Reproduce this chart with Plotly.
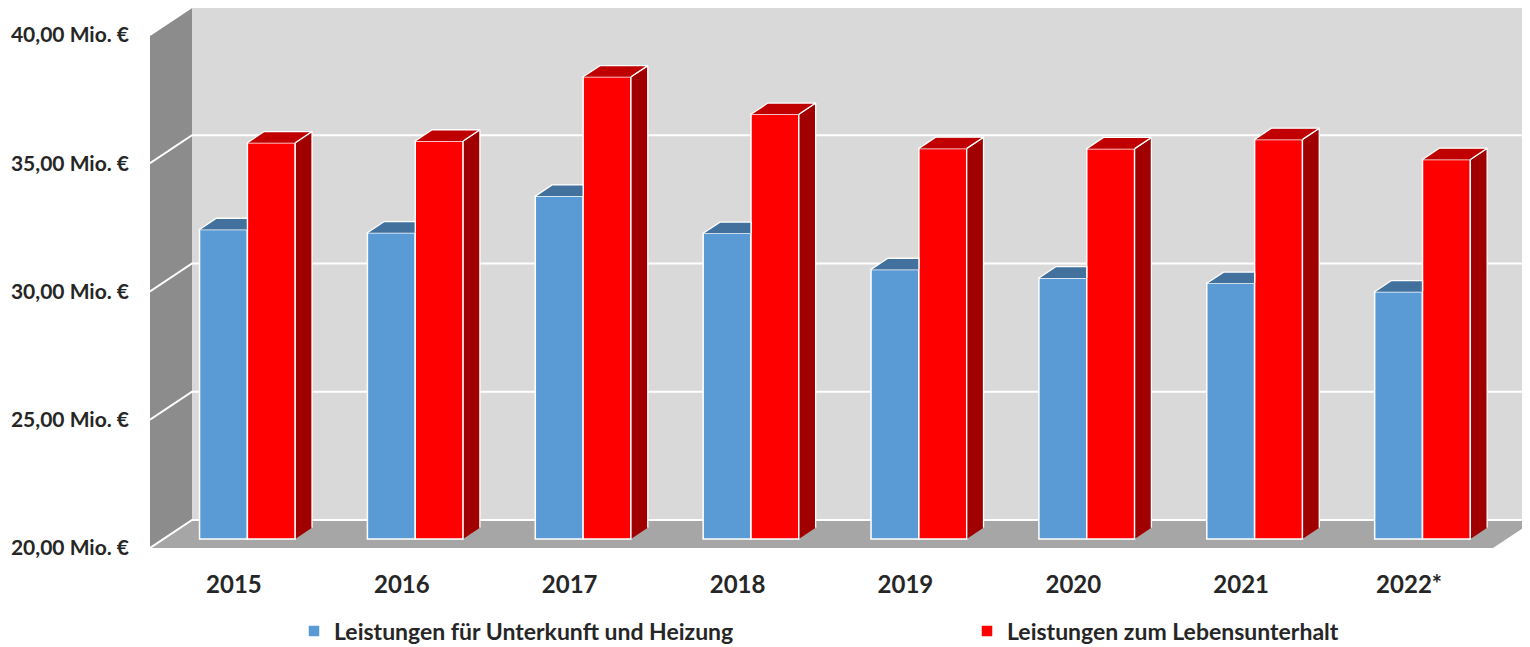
import plotly.graph_objects as go

# ---------------- data ----------------
years = ["2015", "2016", "2017", "2018", "2019", "2020", "2021", "2022*"]
unterkunft = [32.07, 31.94, 33.37, 31.92, 30.51, 30.18, 29.97, 29.64]
lebensunterhalt = [35.45, 35.52, 38.02, 36.56, 35.23, 35.22, 35.58, 34.80]
y_ticks = [20, 25, 30, 35, 40]
y_ticktext = ["20,00 Mio. €", "25,00 Mio. €", "30,00 Mio. €", "35,00 Mio. €", "40,00 Mio. €"]
series_names = ["Leistungen für Unterkunft und Heizung", "Leistungen zum Lebensunterhalt"]

# ---------------- geometry / style ----------------
# page body has an 8px default margin: the figure is sized to fit the 1530x647 window
W, H = 1522, 639
ML, MR, MT, MB = 142, 0, 0, 99
plot_w = W - ML - MR
plot_h = H - MT - MB
n = len(years)
BASE = y_ticks[0]
px_per_cat = 167.875
px_per_val = 25.65
x_rng = [0, plot_w / px_per_cat]
y_rng = [BASE, BASE + plot_h / px_per_val]
DX = 42 / px_per_cat          # full depth in category units
DY = 28 / px_per_val          # full depth in value units
F0 = 0.32                     # depth position of bar fronts
FB = 0.40                     # bar depth
BW = 0.285                    # single bar width
ddx, ddy = FB * DX, FB * DY

C_BLUE, C_BLUE_TOP = "#5b9bd5", "#41719c"
C_RED, C_RED_TOP, C_RED_SIDE = "#ff0000", "#c00000", "#a00000"
C_BACK, C_LEFT, C_FLOOR = "#d9d9d9", "#8c8c8c", "#a6a6a6"
TXT = "#262626"
FONT = "Lato"

centers = [i + 0.5 for i in range(n)]

fig = go.Figure()

# front faces (bars) on the bar-plane axes, starting at the axis base value
fig.add_trace(go.Bar(x=centers, y=[v - BASE for v in unterkunft], base=BASE, width=BW, offset=-BW,
                     marker=dict(color=C_BLUE, line=dict(color="white", width=1.5)),
                     name=series_names[0], xaxis="x2", yaxis="y2", hoverinfo="skip",
                     legend="legend"))
fig.add_trace(go.Bar(x=centers, y=[v - BASE for v in lebensunterhalt], base=BASE, width=BW, offset=0,
                     marker=dict(color=C_RED, line=dict(color="white", width=1.5)),
                     name=series_names[1], xaxis="x2", yaxis="y2", hoverinfo="skip",
                     legend="legend2"))

# 3D faces
bt_x, bt_y, rt_x, rt_y, rs_x, rs_y = [], [], [], [], [], []
for c, vb, vr in zip(centers, unterkunft, lebensunterhalt):
    xl, xr = c - BW, c
    bt_x += [xl, xl + ddx, xr + (ddx if vb > vr else 0), xr, None]
    bt_y += [vb, vb + ddy, vb + ddy, vb, None]
    xl, xr = c, c + BW
    rt_x += [xl, xl + ddx, xr + ddx, xr, None]
    rt_y += [vr, vr + ddy, vr + ddy, vr, None]
    rs_x += [xr, xr, xr + ddx, xr + ddx, None]
    rs_y += [BASE, vr, vr + ddy, BASE + ddy, None]

for xs, ys, col in [(bt_x, bt_y, C_BLUE_TOP), (rs_x, rs_y, C_RED_SIDE), (rt_x, rt_y, C_RED_TOP)]:
    fig.add_trace(go.Scatter(x=xs, y=ys, mode="lines", fill="toself", fillcolor=col,
                             line=dict(color="white", width=1.3), showlegend=False,
                             xaxis="x2", yaxis="y2", hoverinfo="skip"))

# walls, floor, gridlines (chart furniture)
shapes = []
xe = n
top = y_ticks[-1]
shapes.append(dict(type="rect", xref="x", yref="y", x0=DX, x1=xe + DX, y0=BASE + DY, y1=top + DY,
                   fillcolor=C_BACK, line=dict(width=0), layer="below"))
shapes.append(dict(type="path", xref="x", yref="y",
                   path=f"M0,{BASE} L{DX},{BASE+DY} L{DX},{top+DY} L0,{top} Z",
                   fillcolor=C_LEFT, line=dict(width=0), layer="below"))
shapes.append(dict(type="path", xref="x", yref="y",
                   path=f"M0,{BASE} L{xe},{BASE} L{xe+DX},{BASE+DY} L{DX},{BASE+DY} Z",
                   fillcolor=C_FLOOR, line=dict(width=0), layer="below"))
for v in y_ticks:
    shapes.append(dict(type="path", xref="x", yref="y",
                       path=f"M0,{v} L{DX},{v+DY} L{xe+DX},{v+DY}",
                       line=dict(color="white", width=2), layer="below"))

legend_font = dict(family=FONT, size=23, color=TXT, weight="bold")
leg_y = 16 / H  # legend centre slightly above the figure bottom
fig.update_layout(
    width=W, height=H,
    margin=dict(l=ML, r=MR, t=MT, b=MB, pad=0),
    paper_bgcolor="white", plot_bgcolor="white",
    shapes=shapes,
    barmode="overlay",
    xaxis=dict(range=x_rng, showgrid=False, zeroline=False, showline=False,
               tickvals=centers, ticktext=years, ticks="", ticklabelstandoff=20,
               tickfont=dict(family=FONT, size=24, color=TXT, weight="bold"), fixedrange=True),
    yaxis=dict(range=y_rng, showgrid=False, zeroline=False, showline=False,
               tickvals=y_ticks, ticktext=y_ticktext, ticks="", ticklabelstandoff=20,
               tickfont=dict(family=FONT, size=21, color=TXT, weight="bold"), fixedrange=True),
    xaxis2=dict(range=[x_rng[0] - F0 * DX, x_rng[1] - F0 * DX], overlaying="x", visible=False,
                fixedrange=True),
    yaxis2=dict(range=[y_rng[0] - F0 * DY, y_rng[1] - F0 * DY], overlaying="y", visible=False,
                fixedrange=True),
    legend=dict(orientation="h", x=(306 - 20 - ML) / plot_w, xanchor="left",
                y=leg_y, yref="container", yanchor="middle",
                font=legend_font, bgcolor="rgba(0,0,0,0)"),
    legend2=dict(orientation="h", x=(979 - 20 - ML) / plot_w, xanchor="left",
                 y=leg_y, yref="container", yanchor="middle",
                 font=legend_font, bgcolor="rgba(0,0,0,0)"),
    showlegend=True,
)

fig.write_html("out.html")
